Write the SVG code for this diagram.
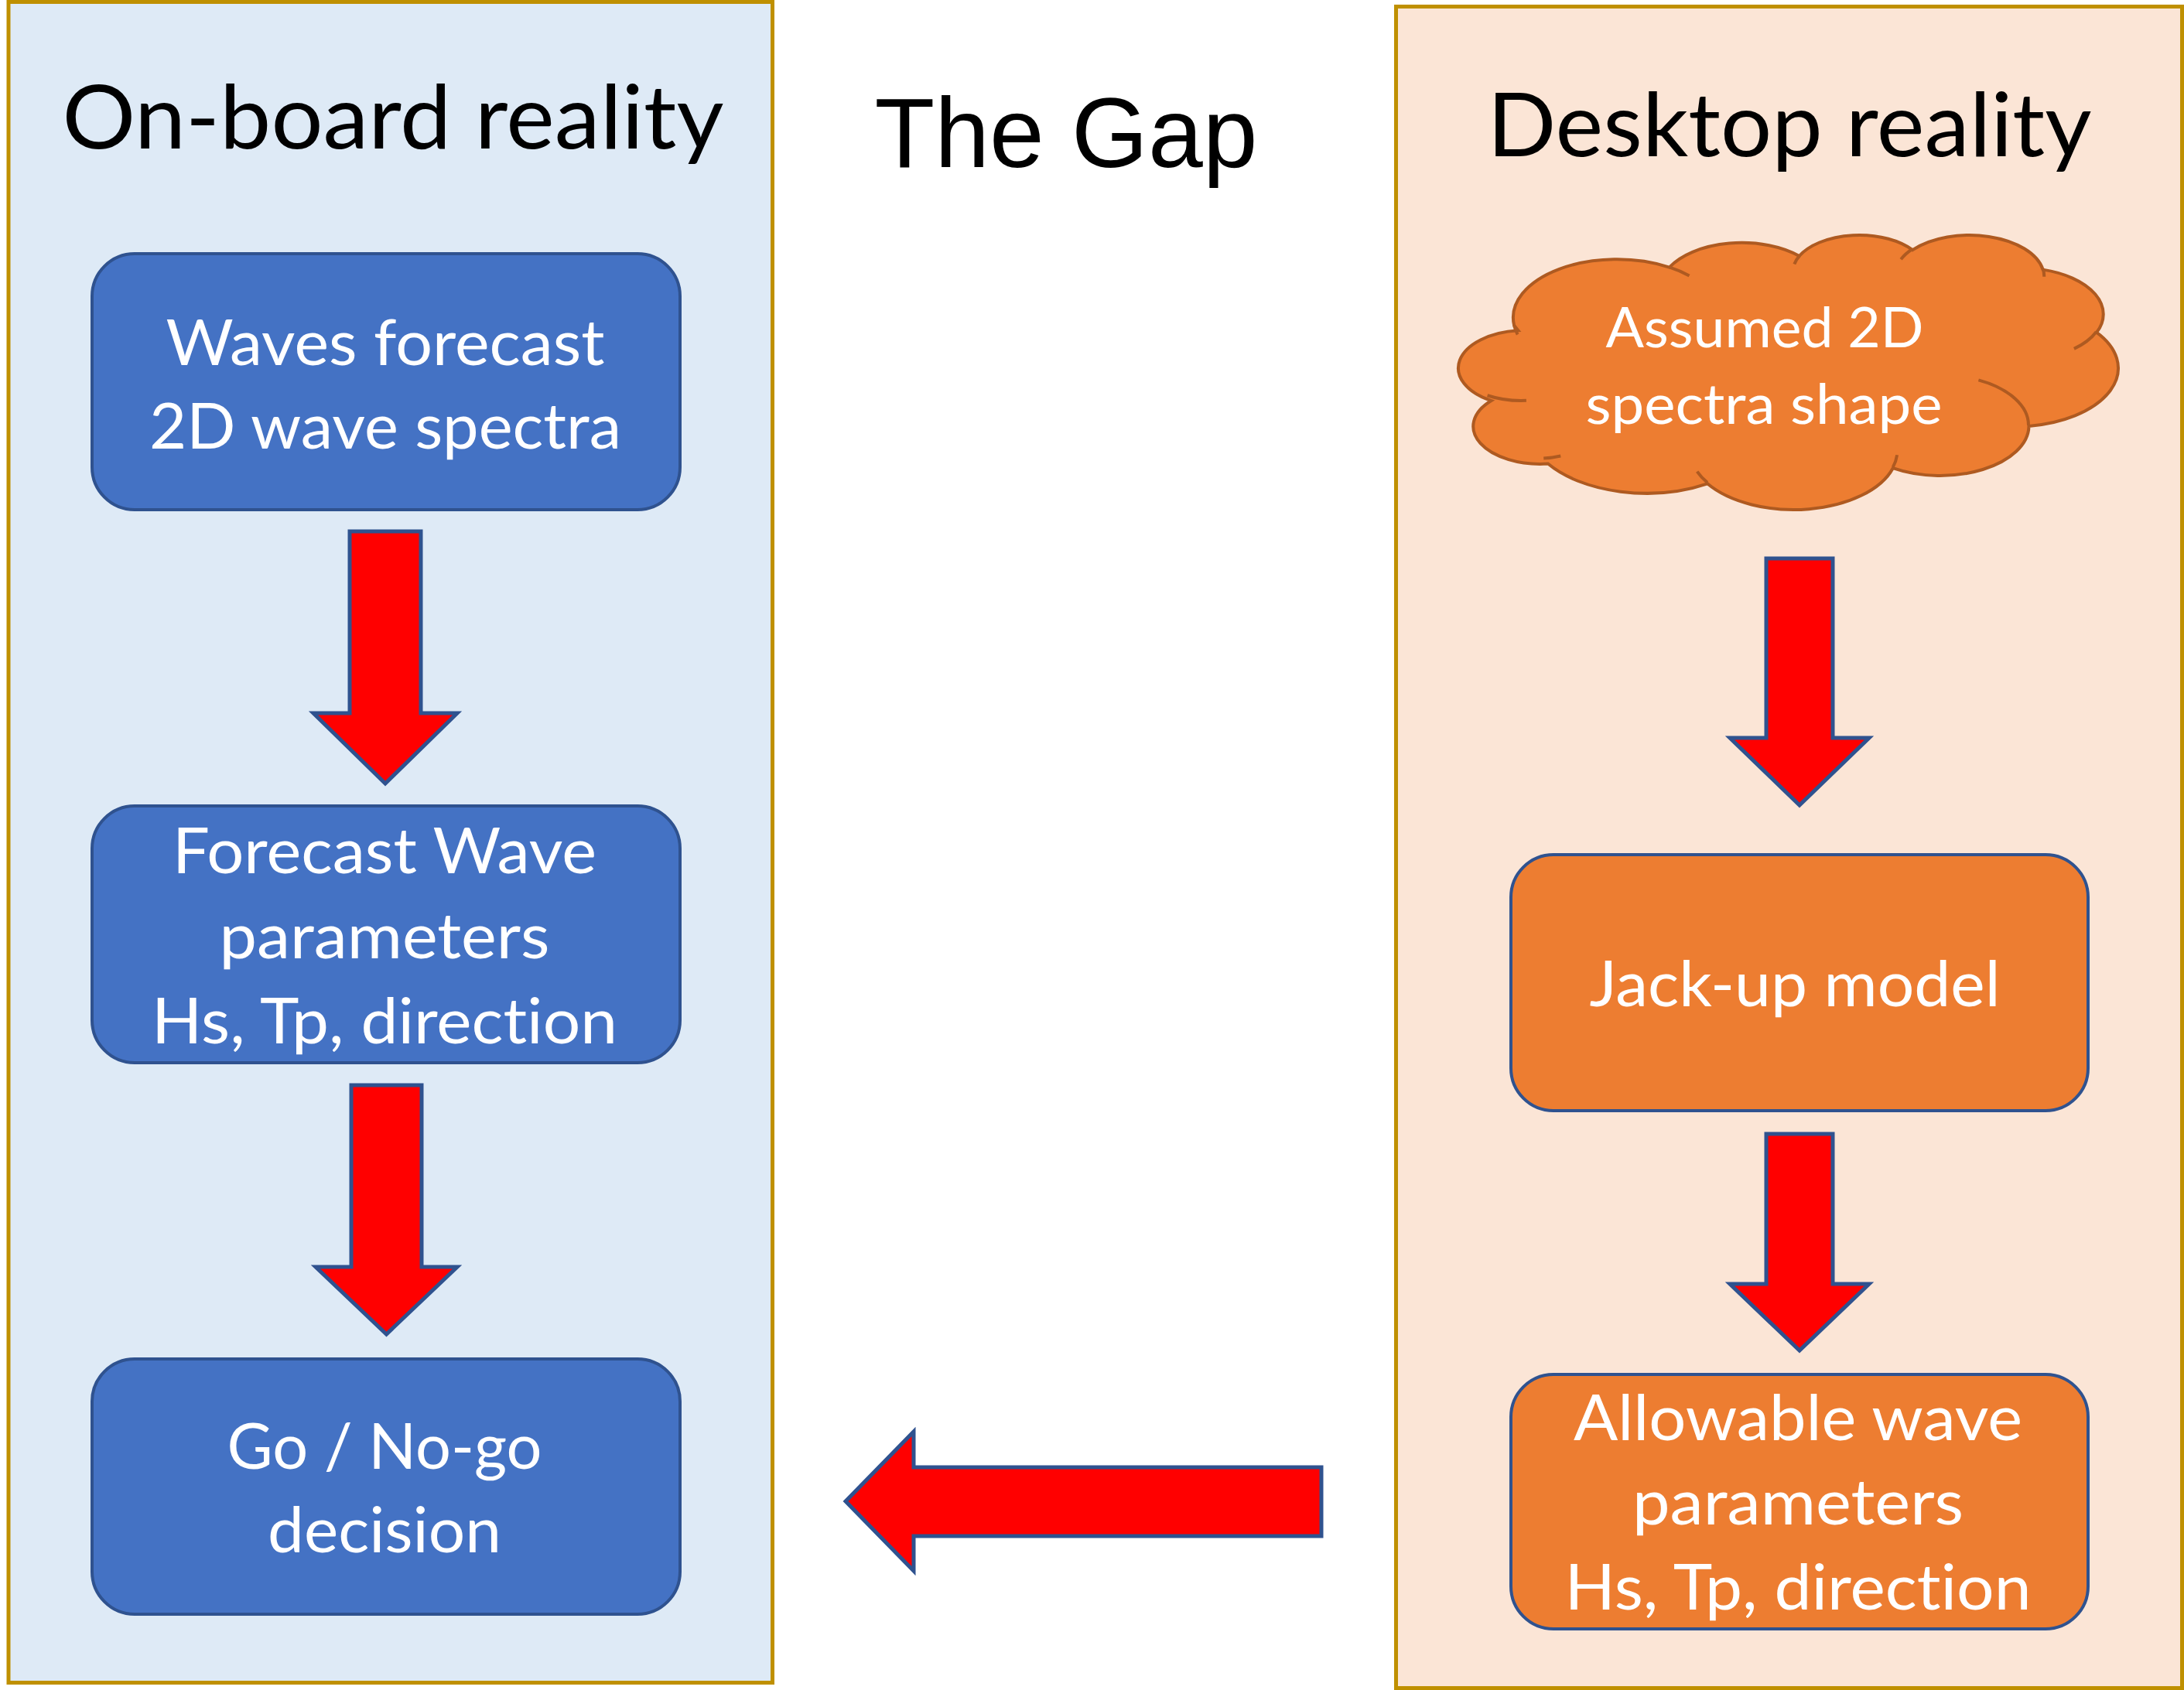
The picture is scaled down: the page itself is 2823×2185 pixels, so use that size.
<svg xmlns="http://www.w3.org/2000/svg" width="2823" height="2185" viewBox="0 0 2823 2185">
<defs>
<style>
.panel-l{fill:#DEEAF6;stroke:#BF9000;stroke-width:5}
.panel-r{fill:#FBE5D6;stroke:#BF9000;stroke-width:5}
.box-b{fill:#4472C4;stroke:#2F528F;stroke-width:4}
.box-o{fill:#ED7D31;stroke:#2F528F;stroke-width:4}
.arrow{fill:#FF0000;stroke:#2F528F;stroke-width:5;stroke-linejoin:miter}
text{font-variant-ligatures:none;font-feature-settings:"liga" 0,"clig" 0}
.title{font-family:Lato,"Open Sans","Noto Sans",sans-serif;font-size:115px;fill:#000000;text-anchor:middle}
.gap{font-family:"Liberation Sans",Arial,sans-serif;font-size:128px;fill:#000000;text-anchor:middle}
.lbl{font-family:Lato,"Open Sans","Noto Sans",sans-serif;font-size:81px;fill:#FFFFFF;text-anchor:middle}
.clbl{font-family:Lato,"Open Sans","Noto Sans",sans-serif;font-size:72px;fill:#FFFFFF;text-anchor:middle}
</style>
</defs>
<rect width="2823" height="2185" fill="#FFFFFF"/>

<g id="panel-onboard">
<rect class="panel-l" x="11" y="2.5" width="987.5" height="2173"/>
<text class="title" x="508" y="192" textLength="855" lengthAdjust="spacingAndGlyphs">On-board reality</text>
</g>

<g id="title-gap">
<text class="gap" x="1378" y="216" textLength="495" lengthAdjust="spacingAndGlyphs">The Gap</text>
</g>

<g id="panel-desktop">
<rect class="panel-r" x="1804.5" y="8.5" width="1016" height="2174"/>
<text class="title" x="2313" y="202" textLength="781" lengthAdjust="spacingAndGlyphs">Desktop reality</text>
</g>

<g id="node-waves-forecast">
<rect class="box-b" x="119" y="328" width="760" height="331" rx="55" ry="55"/>
<text class="lbl" x="498" y="472" textLength="567" lengthAdjust="spacingAndGlyphs">Waves forecast</text>
<text class="lbl" x="498" y="580" textLength="610" lengthAdjust="spacingAndGlyphs">2D wave spectra</text>
</g>

<g id="node-forecast-params">
<rect class="box-b" x="119" y="1042" width="760" height="332" rx="55" ry="55"/>
<text class="lbl" x="497" y="1129" textLength="548" lengthAdjust="spacingAndGlyphs">Forecast Wave</text>
<text class="lbl" x="497" y="1239" textLength="427" lengthAdjust="spacingAndGlyphs">parameters</text>
<text class="lbl" x="497" y="1349" textLength="602" lengthAdjust="spacingAndGlyphs">Hs, Tp, direction</text>
</g>

<g id="node-go-nogo">
<rect class="box-b" x="119" y="1757" width="760" height="330" rx="55" ry="55"/>
<text class="lbl" x="497" y="1899" textLength="407" lengthAdjust="spacingAndGlyphs">Go / No-go</text>
<text class="lbl" x="497" y="2007" textLength="302" lengthAdjust="spacingAndGlyphs">decision</text>
</g>

<g id="node-assumed-spectra">
<g transform="translate(1879.7,302.8) scale(0.019857,0.008214)">
<path d="M3900,14370 A6753,9190 0 0 1 14005.7,5202.8 A5333,7267 0 0 1 22458.6,3433.7 A4365,5945 0 0 1 29836.6,2484.3 A4857,6595 0 0 1 38322,5579.2 A5333,7273 0 0 1 41822.3,15463 A6775,9220 0 0 1 37407,30204 A5785,7867 0 0 1 28558.2,36814 A6752,9215 0 0 1 16482.8,39266.8 A7720,10543 0 0 1 6105.4,36126.3 A4360,5918 0 0 1 2414.2,26204.5 A4345,5945 0 0 1 4164.6,15161.4 Z" fill="#ED7D31" stroke="#AE5A21" stroke-width="4" vector-effect="non-scaling-stroke"/>
<path d="M4693,26177 A4345,5945 0 0 1 2159.6,25379.4 M6928,34899 A4360,5918 0 0 1 5819.5,35280.5 M16478,39090 A6752,9215 0 0 1 15810,37349.6 M28827,34751 A6752,9215 0 0 1 28560.5,36659.4 M34129,22954 A5785,7867 0 0 1 37380.9,30089.9 M41798,15354 A5333,7273 0 0 1 40349.1,18031 M38324,5426 A4857,6595 0 0 1 38400.4,6689.5 M29078,3952 A4857,6595 0 0 1 29819.6,2339.8 M22141,4720 A4365,5945 0 0 1 22500.2,3329.7 M14000,5192 A6753,9190 0 0 1 15301.7,6543.2 M4127,15789 A6753,9190 0 0 1 3900.4,14371.1" fill="none" stroke="#AE5A21" stroke-width="4" vector-effect="non-scaling-stroke"/>
</g>
<text class="clbl" x="2281" y="449" textLength="411" lengthAdjust="spacingAndGlyphs">Assumed 2D</text>
<text class="clbl" x="2280" y="548" textLength="461" lengthAdjust="spacingAndGlyphs">spectra shape</text>
</g>

<g id="node-jackup">
<rect class="box-o" x="1953" y="1105" width="746" height="331" rx="55" ry="55"/>
<text class="lbl" x="2320" y="1301" textLength="531" lengthAdjust="spacingAndGlyphs">Jack-up model</text>
</g>

<g id="node-allowable">
<rect class="box-o" x="1953" y="1777" width="746" height="329" rx="55" ry="55"/>
<text class="lbl" x="2324" y="1862" textLength="580" lengthAdjust="spacingAndGlyphs">Allowable wave</text>
<text class="lbl" x="2324" y="1971" textLength="428" lengthAdjust="spacingAndGlyphs">parameters</text>
<text class="lbl" x="2324" y="2081" textLength="603" lengthAdjust="spacingAndGlyphs">Hs, Tp, direction</text>
</g>

<g id="connectors">
<polygon class="arrow" points="452,687 544,687 544,922 591,922 498,1013 405,922 452,922"/>
<polygon class="arrow" points="454,1403 545,1403 545,1638 591,1638 499.5,1725 408,1638 454,1638"/>
<polygon class="arrow" points="2283,722 2369,722 2369,954 2416,954 2326,1041 2236,954 2283,954"/>
<polygon class="arrow" points="2283,1466 2369,1466 2369,1660 2416,1660 2326,1746 2236,1660 2283,1660"/>
<polygon class="arrow" points="1708,1897 1708,1986 1181,1986 1181,2031 1093,1941 1181,1851 1181,1897"/>
</g>
</svg>
